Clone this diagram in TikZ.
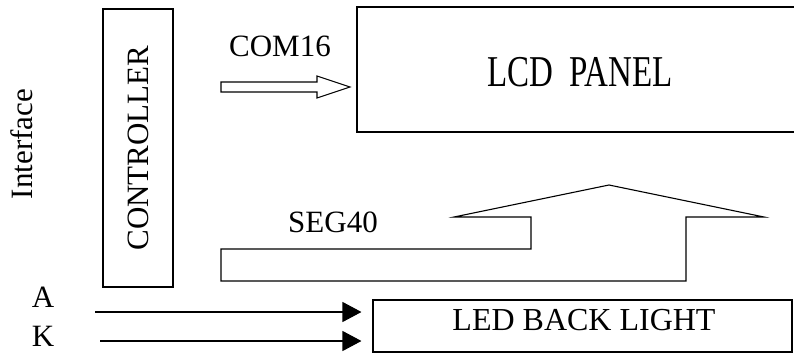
\documentclass[tikz,border=0pt]{standalone}
\usepackage{fontspec}
\setmainfont{Liberation Serif}
\newfontfamily\lcdfont[FakeStretch=0.75]{Liberation Serif}
\usetikzlibrary{arrows.meta}
\tikzset{
  blk/.style={draw, line width=1.1pt, inner sep=0pt},
  lbl/.style={inner sep=0pt, font=\fontsize{31}{36}\selectfont},
  sig/.style={line width=1.1pt, -{Triangle[length=19pt,width=20pt]}}
}
\begin{document}
\begin{tikzpicture}[x=1pt, y=-1pt, line width=1.1pt]
  \useasboundingbox (0,0) rectangle (794,353);
  % controller and interface
  \node[lbl, rotate=90] (iface) at (22,144) {Interface};
  \node[blk, lbl, rotate=90, minimum width=278pt, minimum height=70pt] (ctrl) at (138,148) {CONTROLLER};
  % lcd panel (right side runs off the page)
  \draw (794,7) -- (357,7) -- (357,132) -- (794,132);
  \node[lbl, font=\lcdfont\fontsize{44}{48}\selectfont] (lcd) at (580,72) {LCD\ \ PANEL};
  % com bus
  \node[lbl] (com) at (280,46) {COM16};
  \draw (221,82) -- (317,82) -- (317,76) -- (350,87) -- (317,98) -- (317,92) -- (221,92) -- cycle;
  % seg bus
  \node[lbl] (seg) at (333,222) {SEG40};
  \draw (221,249) -- (531,249) -- (531,217) -- (454,217) -- (609,185) -- (764,217)
    -- (686,217) -- (686,281) -- (221,281) -- cycle;
  % backlight
  \node[blk, minimum width=419pt, minimum height=52pt] (led) at (582.5,326) {};
  \node[lbl, font=\fontsize{32}{36}\selectfont] (ledtxt) at (584,320) {LED BACK LIGHT};
  \node[lbl] (pa) at (43,297) {A};
  \node[lbl] (pk) at (43,336) {K};
  \coordinate (ain) at (95,312);
  \coordinate (kin) at (100,341);
  \draw[sig, shorten >=11pt] (ain) -- (ain -| led.west);
  \draw[sig, shorten >=11pt] (kin) -- (kin -| led.west);
\end{tikzpicture}
\end{document}
